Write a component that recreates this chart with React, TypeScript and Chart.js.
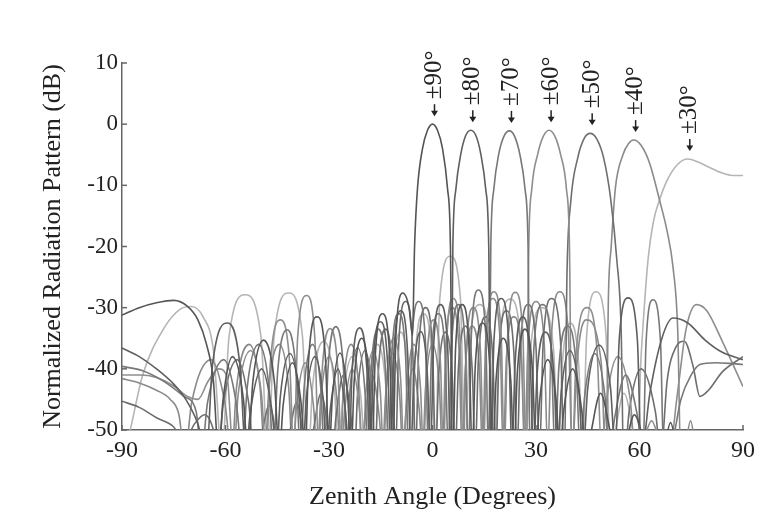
import React, { useEffect, useRef } from 'react';
import { Chart, registerables } from 'chart.js';

Chart.register(...registerables);

// Axis ticks
const xTickValues = [-90, -60, -30, 0, 30, 60, 90];
const yTickValues = [10, 0, -10, -20, -30, -40, -50];

// Beam annotations (steering labels, main-lobe angle and peak level)
const beamLabels = ['±90°', '±80°', '±70°', '±60°', '±50°', '±40°', '±30°'];
const beamAngles = [0, 11.1, 22.3, 33.8, 45.7, 58.3, 74];
const beamPeaks = [0, -1, -1.1, -1, -1.5, -2.6, -5.7];

// Series: [zenith angle (deg), normalized pattern (dB)]
const s90: [number, number][] = [
  [-90, -31.2], [-85, -30], [-80, -29.2], [-75, -28.8], [-71, -29.8], [-68, -32], [-65.5, -36], [-63.5, -42], [-62, -54],
  [-60.7, -45], [-58, -38], [-54.8, -45], [-53.5, -54],
  [-52.1, -42.3], [-49, -35.3], [-45.8, -42.3], [-44.4, -54],
  [-43.3, -46], [-40.6, -39], [-38, -46], [-36.9, -54],
  [-35.9, -38.5], [-33.5, -31.5], [-31, -38.5], [-30, -54],
  [-29, -44.4], [-26.8, -37.4], [-24.6, -44.4], [-23.6, -54],
  [-22.7, -42], [-20.5, -35], [-18.4, -42], [-17.5, -54],
  [-16.6, -38], [-14.5, -31], [-12.4, -38], [-11.5, -54],
  [-10.6, -34.6], [-8.6, -27.6], [-6.8, -30], [-5.8, -34.5],
  [-5.2, -20], [-4.35, -10.5], [-2.9, -4], [-1.45, -1], [0, 0], [1.45, -1], [2.9, -4], [4.35, -10.5], [5.2, -20], [5.8, -56],
  [6.7, -36.5], [8.6, -29.5], [10.6, -36.5], [11.5, -54],
  [12.4, -39.5], [14.5, -32.5], [16.6, -39.5], [17.5, -54],
  [18.4, -42], [20.5, -35], [22.7, -42], [23.6, -54],
  [24.6, -40.5], [26.8, -33.5], [29, -40.5], [30, -54],
  [31, -45.5], [33.4, -38.5], [35.9, -45.5], [36.9, -54],
  [38, -47], [40.6, -40], [43.3, -47], [44.4, -54],
  [45.7, -51], [48.7, -44], [51.8, -51], [53.1, -54],
  [54.8, -54.5], [58.5, -47.5], [62.5, -54.5], [64.2, -56],
  [66.5, -55], [69, -48.8], [71.5, -55], [74, -56], [90, -56],
];

const s80: [number, number][] = [
  [-90, -36.6], [-85, -38], [-80, -40], [-75, -42.5], [-71.5, -45], [-68, -49], [-65.5, -54],
  [-63.8, -39.5], [-59.3, -32.5], [-55.8, -39.5], [-54.1, -54],
  [-52.8, -47], [-49.5, -40], [-46.5, -47], [-45.2, -54],
  [-44.1, -44.5], [-41.3, -37.5], [-38.7, -44.5], [-37.6, -54],
  [-36.6, -45], [-34.1, -38], [-31.7, -45], [-30.7, -54],
  [-29.7, -47], [-27.4, -40], [-25.2, -47], [-24.2, -54],
  [-23.3, -40.3], [-21.1, -33.3], [-19, -40.3], [-18.1, -54],
  [-17.2, -39.3], [-15.1, -32.3], [-13, -39.3], [-12.1, -54],
  [-11.2, -37.5], [-9.2, -30.5], [-7.2, -37.5], [-6.3, -54],
  [-5.4, -40.9], [-3.4, -33.9], [-1.5, -40.9], [-0.6, -54],
  [0.3, -36.5], [2.3, -29.5], [4.4, -36.5], [5.3, -56],
  [5.9, -20], [6.8, -10.5], [8.2, -4.9], [9.6, -1.9], [11.1, -1], [12.6, -1.9], [14, -4.9], [15.4, -10.5], [16.3, -20], [16.9, -56],
  [17.8, -35.5], [19.9, -28.5], [22.1, -35.5], [23, -54],
  [24, -38.5], [26.1, -31.5], [28.3, -38.5], [29.3, -54],
  [30.3, -41], [32.7, -34], [35.2, -41], [36.2, -54],
  [37.3, -44], [39.8, -37], [42.5, -44], [43.6, -54],
  [45, -43.1], [48.3, -36.1], [51.6, -43.1], [53, -54],
  [54.1, -35.4], [56.7, -28.4], [59.4, -35.4], [60.5, -54],
  [63, -44], [66.5, -35], [69.7, -31.7], [74, -32.5], [79, -35.3], [84, -37.3], [90, -38.5],
];

const s70: [number, number][] = [
  [-90, -39.6], [-84, -40.3], [-78, -42], [-72, -44.5], [-68.5, -47], [-67, -54],
  [-65.2, -45.5], [-60.5, -38.5], [-56.9, -45.5], [-55.1, -54],
  [-53.7, -43], [-50.4, -36], [-47.4, -43], [-46.1, -54],
  [-44.9, -40.6], [-42.1, -33.6], [-39.5, -40.6], [-38.3, -54],
  [-37.2, -43], [-34.8, -36], [-32.4, -43], [-31.3, -54],
  [-30.3, -40.1], [-28, -33.1], [-25.8, -40.1], [-24.8, -54],
  [-23.9, -43.5], [-21.7, -36.5], [-19.6, -43.5], [-18.7, -54],
  [-17.8, -40.5], [-15.7, -33.5], [-13.6, -40.5], [-12.7, -54],
  [-11.8, -38], [-9.8, -31], [-7.8, -38], [-6.9, -54],
  [-6, -36], [-4, -29], [-2, -36], [-1.2, -54],
  [-0.3, -38], [1.7, -31], [3.7, -38], [4.6, -54],
  [5.5, -36.5], [7.5, -29.5], [9.5, -36.5], [10.4, -54],
  [11.3, -34.1], [13.3, -27.1], [15.4, -34.1], [16.3, -56],
  [16.9, -20], [17.8, -10.5], [19.2, -4.9], [20.7, -2], [22.3, -1.1], [23.8, -2], [25.3, -4.9], [26.8, -10.5], [27.7, -20], [28.3, -56],
  [29.4, -36.5], [31.9, -29.5], [34.4, -36.5], [35.5, -54],
  [36.6, -40], [39.1, -33], [41.7, -40], [42.8, -54],
  [44.1, -44.5], [47, -37.5], [50, -44.5], [51.3, -54],
  [52.8, -48], [56, -41], [59.5, -48], [61, -54],
  [61.9, -35.7], [63.9, -28.7], [66.1, -35.7], [67, -54],
  [69.5, -52], [72, -45], [75, -41], [77.5, -39.3], [82, -39], [86, -39.1], [90, -39.3],
];

const s60: [number, number][] = [
  [-90, -41], [-85, -41], [-80, -41.4], [-75, -42.8], [-71, -44.5], [-68, -45], [-65, -42], [-62, -40], [-59.5, -41.5], [-57.7, -54],
  [-56.3, -44], [-52.7, -37], [-49.6, -44], [-48.2, -54],
  [-47, -39], [-44, -32], [-41.4, -39], [-40.2, -54],
  [-39.1, -35], [-36.5, -28], [-34.1, -35], [-33, -54],
  [-32, -40.4], [-29.7, -33.4], [-27.4, -40.4], [-26.4, -54],
  [-25.5, -47], [-23.3, -40], [-21.1, -47], [-20.2, -54],
  [-19.3, -44], [-17.2, -37], [-15.1, -44], [-14.2, -54],
  [-13.3, -42], [-11.2, -35], [-9.2, -42], [-8.3, -54],
  [-7.4, -43], [-5.4, -36], [-3.5, -43], [-2.6, -54],
  [-1.7, -39], [0.3, -32], [2.3, -39], [3.2, -54],
  [4.1, -35.5], [6, -28.5], [8, -35.5], [8.9, -54],
  [9.8, -37], [11.8, -30], [13.9, -37], [14.8, -54],
  [15.7, -34.4], [17.8, -27.4], [19.9, -34.4], [20.8, -54],
  [21.8, -34.5], [24, -27.5], [26.2, -34.5], [27.2, -56],
  [27.9, -20], [28.8, -10.5], [30.5, -4.9], [32.1, -2], [33.8, -1], [35.5, -2], [37.1, -4.9], [38.8, -10.5], [39.7, -20], [40.4, -56],
  [41.7, -37], [44.8, -30], [47.7, -37], [49, -54],
  [50.5, -45], [53.7, -38], [57.3, -45], [58.8, -54],
  [61, -52], [63.5, -48.5], [66, -52], [68.5, -54],
  [71, -44], [73.5, -33.5], [76.5, -29.5], [79.5, -30.5], [84, -35.5], [90, -42.9],
];

const s50: [number, number][] = [
  [-90, -45.3], [-85, -46.3], [-80, -48], [-75, -49.5], [-72, -52], [-69, -49], [-66, -47.5], [-63.5, -50], [-62.2, -54],
  [-60.6, -45.5], [-56.6, -38.5], [-53.3, -45.5], [-51.7, -54],
  [-50.4, -53], [-47.3, -46], [-44.5, -53], [-43.2, -54],
  [-42.1, -52.5], [-39.4, -45.5], [-36.9, -52.5], [-35.8, -54],
  [-34.8, -51], [-32.3, -44], [-30, -51], [-29, -54],
  [-28, -48], [-25.8, -41], [-23.6, -48], [-22.6, -54],
  [-21.7, -44], [-19.6, -37], [-17.5, -44], [-16.6, -54],
  [-15.7, -40.5], [-13.6, -33.5], [-11.6, -40.5], [-10.7, -54],
  [-9.8, -36], [-7.8, -29], [-5.8, -36], [-4.9, -54],
  [-4, -37], [-2, -30], [0, -37], [0.9, -54],
  [1.8, -41], [3.7, -34], [5.7, -41], [6.6, -54],
  [7.5, -40], [9.5, -33], [11.5, -40], [12.4, -54],
  [13.3, -38.5], [15.4, -31.5], [17.5, -38.5], [18.4, -54],
  [19.3, -37.5], [21.4, -30.5], [23.6, -37.5], [24.5, -54],
  [25.5, -36.5], [27.7, -29.5], [30, -36.5], [31, -54],
  [32.1, -35.5], [34.5, -28.5], [37.1, -35.5], [38.2, -56],
  [39, -24], [40.1, -12.5], [42.1, -5.5], [43.9, -2.4], [45.7, -1.5], [47.6, -2.4], [49.6, -5.5], [51.6, -12], [53.4, -22], [54.7, -34], [55.4, -56],
  [57, -47], [60.5, -40], [64.6, -47], [66.2, -54],
  [68, -42], [70.5, -36.5], [73, -35.5], [75.5, -39.5], [77.5, -44.5], [80, -43.5], [84, -40.5], [90, -38],
];

const s40: [number, number][] = [
  [-90, -41.6], [-85, -42.3], [-80, -43.5], [-76, -45], [-73.5, -47.5], [-71.8, -54],
  [-69.8, -45.5], [-64.2, -38.5], [-60.2, -45.5], [-58.2, -54],
  [-56.8, -43], [-53.1, -36], [-50, -43], [-48.6, -54],
  [-47.4, -43], [-44.4, -36], [-41.7, -43], [-40.5, -54],
  [-39.4, -46], [-36.9, -39], [-34.5, -46], [-33.4, -54],
  [-32.4, -45], [-30, -38], [-27.7, -45], [-26.7, -54],
  [-25.8, -43], [-23.6, -36], [-21.4, -43], [-20.5, -54],
  [-19.6, -48], [-17.5, -41], [-15.4, -48], [-14.5, -54],
  [-13.6, -44.5], [-11.5, -37.5], [-9.5, -44.5], [-8.6, -54],
  [-7.7, -47], [-5.7, -40], [-3.8, -47], [-2.9, -54],
  [-2, -43], [0, -36], [2, -43], [2.9, -54],
  [3.8, -37], [5.7, -30], [7.7, -37], [8.6, -54],
  [9.5, -40], [11.5, -33], [13.6, -40], [14.5, -54],
  [15.4, -35.5], [17.5, -28.5], [19.6, -35.5], [20.5, -54],
  [21.4, -38.5], [23.6, -31.5], [25.8, -38.5], [26.7, -54],
  [27.7, -36], [30, -29], [32.4, -36], [33.4, -54],
  [34.5, -34.4], [36.9, -27.4], [39.4, -34.4], [40.5, -54],
  [41.9, -39], [44.5, -32], [48.9, -39], [50.3, -56],
  [51, -28], [51.8, -20], [53, -10.5], [55.2, -5], [56.8, -3.2], [58.3, -2.6], [60.5, -3.5], [63, -6.5], [65.8, -12.4], [68, -17.5], [69.7, -23.3], [71.1, -34], [72, -56],
  [73, -54], [74.8, -48.5], [76.5, -54], [77.5, -56], [90, -56],
];

const s30: [number, number][] = [
  [-90, -56], [-87.4, -49.5], [-84, -41], [-78, -33.5], [-73, -30.2], [-69.9, -29.8], [-66.5, -31.5], [-63.5, -37], [-61, -54],
  [-59, -34.9], [-54.3, -27.9], [-49.7, -34.9], [-47.7, -54],
  [-45.9, -34.6], [-41.7, -27.6], [-37.7, -34.6], [-36, -54],
  [-34.7, -42.5], [-31.5, -35.5], [-28.5, -42.5], [-27.2, -54],
  [-26, -45], [-23.3, -38], [-20.7, -45], [-19.5, -54],
  [-18.5, -43], [-16, -36], [-13.5, -43], [-12.5, -54],
  [-11.5, -41], [-9.2, -34], [-7, -41], [-6, -54],
  [-5, -38], [-2.6, -31], [-0.2, -38], [0.8, -54],
  [2.1, -28.6], [5.2, -21.6], [8.1, -28.6], [9.4, -54],
  [10.7, -36.5], [13.7, -29.5], [16.7, -36.5], [18, -54],
  [19.4, -35.6], [22.5, -28.6], [25.6, -35.6], [27, -54],
  [28.4, -37], [31.7, -30], [35.1, -37], [36.5, -54],
  [37.6, -39.5], [40, -32.5], [42.4, -39.5], [43.5, -54],
  [44.7, -34.4], [47.4, -27.4], [50.3, -34.4], [51.5, -54],
  [52.7, -51], [55.5, -44], [58.3, -51], [59.5, -56],
  [60.3, -40], [60.9, -34], [62.5, -22], [64, -16], [65.8, -12.4], [68, -9.2], [71, -6.6], [74, -5.7], [77, -6.2], [80, -7], [84, -8], [87, -8.4], [90, -8.4],
];

const seriesData = [s90, s80, s70, s60, s50, s40, s30];
const seriesColors = ['#555555', '#5f5f5f', '#787878', '#8e8e8e', '#6e6e6e', '#8a8a8a', '#b5b5b5'];

const SERIF = '"Liberation Serif", "Times New Roman", Times, serif';

const decorPlugin = {
  id: 'decor',
  afterDraw(chart: any) {
    const { ctx, chartArea } = chart;
    const xs = chart.scales.x;
    const ys = chart.scales.y;
    ctx.save();
    ctx.strokeStyle = '#666666';
    ctx.lineWidth = 1.5;
    yTickValues.forEach((v) => {
      const py = ys.getPixelForValue(v);
      ctx.beginPath();
      ctx.moveTo(chartArea.left, py);
      ctx.lineTo(chartArea.left + 5, py);
      ctx.stroke();
    });
    xTickValues.forEach((v) => {
      const px = xs.getPixelForValue(v);
      ctx.beginPath();
      ctx.moveTo(px, chartArea.bottom);
      ctx.lineTo(px, chartArea.bottom - 5);
      ctx.stroke();
    });
    ctx.fillStyle = '#222222';
    ctx.strokeStyle = '#222222';
    ctx.font = `25px ${SERIF}`;
    beamLabels.forEach((label, i) => {
      const px = xs.getPixelForValue(beamAngles[i]) + 2;
      const tip = ys.getPixelForValue(beamPeaks[i]) - 8;
      ctx.lineWidth = 1.5;
      ctx.beginPath();
      ctx.moveTo(px, tip - 12);
      ctx.lineTo(px, tip - 4);
      ctx.stroke();
      ctx.beginPath();
      ctx.moveTo(px - 3.5, tip - 5.5);
      ctx.lineTo(px + 3.5, tip - 5.5);
      ctx.lineTo(px, tip);
      ctx.closePath();
      ctx.fill();
      ctx.save();
      ctx.translate(px, tip - 17);
      ctx.rotate(-Math.PI / 2);
      ctx.textAlign = 'left';
      ctx.textBaseline = 'middle';
      ctx.fillText(label, 0, 0);
      ctx.restore();
    });
    ctx.restore();
  },
};

export default function App() {
  const canvasRef = useRef<HTMLCanvasElement | null>(null);

  useEffect(() => {
    if (!canvasRef.current) return;
    const chart = new Chart(canvasRef.current, {
      type: 'line',
      data: {
        datasets: seriesData.map((s, i) => ({
          label: beamLabels[i],
          data: s.map(([x, y]) => ({ x, y })),
          borderColor: seriesColors[i],
          borderWidth: 1.6,
          pointRadius: 0,
          fill: false,
          cubicInterpolationMode: 'monotone' as const,
        })),
      },
      options: {
        responsive: true,
        maintainAspectRatio: false,
        animation: false,
        layout: { padding: { left: 0, top: 63, right: 28, bottom: 0 } },
        plugins: { legend: { display: false }, tooltip: { enabled: false } },
        scales: {
          x: {
            type: 'linear',
            min: -90,
            max: 90,
            afterFit: (s: any) => {
              s.height = 98;
            },
            afterBuildTicks: (s: any) => {
              s.ticks = xTickValues.map((v) => ({ value: v }));
            },
            grid: { display: false, drawTicks: false },
            border: { display: true, color: '#666666', width: 1.5 },
            ticks: {
              color: '#222222',
              padding: 6,
              font: { family: SERIF, size: 24 },
              maxRotation: 0,
            },
            title: {
              display: true,
              text: 'Zenith Angle (Degrees)',
              color: '#222222',
              font: { family: SERIF, size: 26 },
              padding: { top: 0, bottom: 15 },
            },
          },
          y: {
            type: 'linear',
            min: -50,
            max: 10,
            afterFit: (s: any) => {
              s.width = 122;
            },
            afterBuildTicks: (s: any) => {
              s.ticks = yTickValues.map((v) => ({ value: v }));
            },
            grid: { display: false, drawTicks: false },
            border: { display: true, color: '#666666', width: 1.5 },
            ticks: {
              color: '#222222',
              padding: 4,
              font: { family: SERIF, size: 23 },
            },
            title: {
              display: true,
              text: 'Normalized Radiation Pattern (dB)',
              color: '#222222',
              font: { family: SERIF, size: 26 },
              padding: { top: 38, bottom: 0 },
            },
          },
        },
      },
      plugins: [decorPlugin],
    });
    return () => chart.destroy();
  }, []);

  return (
    <div style={{ position: 'absolute', left: 0, top: 0, width: 771, height: 528, background: '#ffffff' }}>
      <canvas ref={canvasRef} />
    </div>
  );
}
